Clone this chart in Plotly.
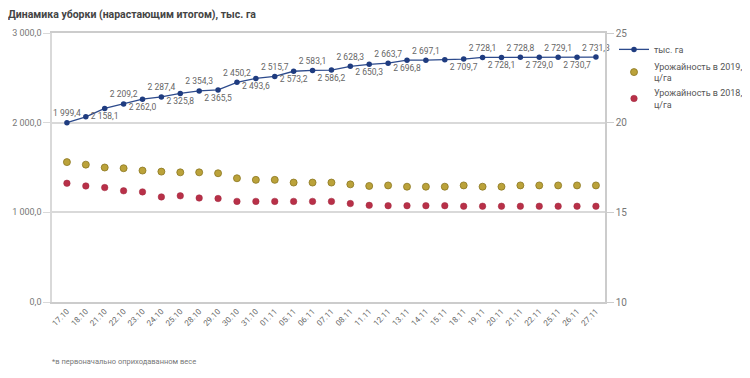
import plotly.graph_objects as go

dates = ["17.10", "18.10", "21.10", "22.10", "23.10", "24.10", "25.10", "28.10", "29.10", "30.10",
         "31.10", "01.11", "05.11", "06.11", "07.11", "08.11", "11.11", "12.11", "13.11", "14.11",
         "15.11", "18.11", "19.11", "20.11", "21.11", "22.11", "25.11", "26.11", "27.11"]

harvest = [1999.4, 2065.0, 2158.1, 2209.2, 2262.0, 2287.4, 2325.8, 2354.3, 2365.5, 2450.2,
           2493.6, 2515.7, 2573.2, 2583.1, 2586.2, 2628.3, 2650.3, 2663.7, 2696.8, 2697.1,
           2703.0, 2709.7, 2728.1, 2728.1, 2728.8, 2729.0, 2729.1, 2730.7, 2731.3]
show_label = [True, False] + [True] * 18 + [False] + [True] * 8

yield_2019 = [17.8, 17.66, 17.5, 17.46, 17.33, 17.27, 17.23, 17.23, 17.18, 16.9,
              16.81, 16.81, 16.66, 16.66, 16.66, 16.56, 16.47, 16.5, 16.43, 16.43,
              16.43, 16.5, 16.43, 16.43, 16.5, 16.5, 16.5, 16.5, 16.5]
yield_2018 = [16.62, 16.47, 16.38, 16.2, 16.14, 15.86, 15.92, 15.8, 15.77, 15.61,
              15.61, 15.61, 15.61, 15.61, 15.61, 15.49, 15.39, 15.37, 15.37, 15.37,
              15.37, 15.34, 15.34, 15.34, 15.34, 15.34, 15.34, 15.34, 15.34]

left_ticks = [0, 1000, 2000, 3000]
left_ticktext = ["0,0", "1 000,0", "2 000,0", "3 000,0"]
right_ticks = [10, 15, 20, 25]


def fmt(v):
    return f"{v:,.1f}".replace(",", " ").replace(".", ",")


labels = [fmt(v) if s else "" for v, s in zip(harvest, show_label)]
positions = []
k = 0
for s in show_label:
    if s:
        positions.append("top center" if k % 2 == 0 else "bottom center")
        k += 1
    else:
        positions.append("top center")

FONT = "Roboto, sans-serif"

fig = go.Figure()
fig.add_trace(go.Scatter(
    x=dates, y=harvest, name="тыс. га", mode="lines+markers+text",
    line=dict(color="#2c4a8c", width=1.3),
    marker=dict(color="#1f3c80", size=5.5, symbol="circle"),
    text=labels, textposition=positions,
    textfont=dict(family=FONT, size=8.5, color="#666666"),
    yaxis="y", cliponaxis=False,
))
fig.add_trace(go.Scatter(
    x=dates, y=yield_2019, name="Урожайность в 2019,<br>ц/га", mode="markers",
    marker=dict(color="#bba23a", size=7, line=dict(color="#8a7620", width=0.8)),
    yaxis="y2",
))
fig.add_trace(go.Scatter(
    x=dates, y=yield_2018, name="Урожайность в 2018,<br>ц/га", mode="markers",
    marker=dict(color="#b83048", size=6.5, line=dict(color="#a02a40", width=0.5)),
    yaxis="y2",
))

fig.update_layout(
    width=742, height=370,
    margin=dict(l=44, r=145, t=25, b=76, autoexpand=False),
    paper_bgcolor="white", plot_bgcolor="white",
    showlegend=True,
    title=dict(text="<b>Динамика уборки (нарастающим итогом), тыс. га</b>",
               x=0.0, y=1 - 6 / 370, xanchor="left", yanchor="middle",
               font=dict(family=FONT, size=10.5, color="#444444")),
    xaxis=dict(
        type="category", range=[-0.79, 28.48], automargin=False,
        showgrid=False, showline=True, linecolor="#cccccc", linewidth=1.5,
        mirror=True, ticks="", tickangle=-45,
        tickfont=dict(family=FONT, size=8, color="#666666"),
    ),
    yaxis=dict(
        range=[0, 3000], tickvals=left_ticks, ticktext=left_ticktext, automargin=False,
        showgrid=True, gridcolor="#d9d9d9", gridwidth=1.5,
        showline=True, linecolor="#d9d9d9", linewidth=1.5,
        ticks="outside", ticklen=7, tickcolor="#d9d9d9",
        tickfont=dict(family=FONT, size=9, color="#777777"),
        zeroline=False,
    ),
    yaxis2=dict(
        range=[10, 25], tickvals=right_ticks, overlaying="y", side="right", automargin=False,
        showgrid=False, showline=True, linecolor="#cccccc", linewidth=1.5,
        ticks="outside", ticklen=7, tickcolor="#cccccc",
        tickfont=dict(family=FONT, size=10, color="#777777"),
        zeroline=False,
    ),
    legend=dict(
        x=1.0163, y=0.993, xanchor="left", yanchor="top",
        font=dict(family=FONT, size=9, color="#555555"),
        valign="middle", bgcolor="rgba(0,0,0,0)", itemwidth=30,
        tracegroupgap=0,
    ),
    annotations=[dict(
        text="*в первоначально оприходаванном весе", xref="paper", yref="paper",
        x=-0.004, y=-0.223, xanchor="left", yanchor="middle", showarrow=False,
        font=dict(family=FONT, size=7.5, color="#777777"),
    )],
)

fig.write_html("out.html")
